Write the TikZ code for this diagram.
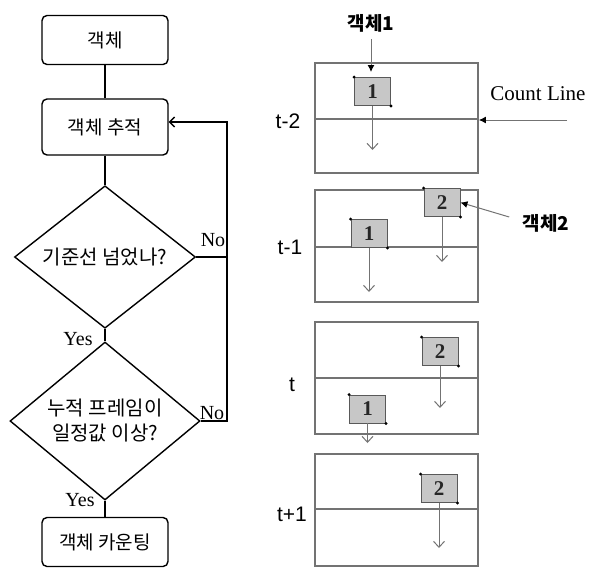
\documentclass[tikz,border=0pt]{standalone}
\usepackage{fontspec}
\newfontfamily\kr{Noto Sans CJK KR}
\newfontfamily\lsans{Liberation Sans}
\newfontfamily\lserif{Liberation Serif}
\usetikzlibrary{shapes.geometric, arrows.meta}

\tikzset{
  flowbox/.style={draw, line width=1.4pt, rounded corners=5pt, minimum width=126pt,
    minimum height=49pt, inner sep=0pt, font=\kr\fontsize{19}{21}\selectfont},
  decide/.style={draw, diamond, line width=1.4pt, inner sep=0pt, align=center,
    font=\kr\fontsize{20}{25}\selectfont},
  flow/.style={line width=1.4pt},
  answer/.style={font=\lserif\fontsize{20}{20}\selectfont, inner sep=1pt},
  frame/.style={draw=black!55, line width=1.8pt, minimum width=163pt, inner sep=0pt},
  obj/.style={draw=black!65, fill=black!22, line width=0.9pt, minimum width=36pt,
    minimum height=28pt, inner sep=0pt, text=black!85, font=\lserif\bfseries\fontsize{21}{21}\selectfont},
  move/.style={draw=black!55, line width=1pt, -{Straight Barb[length=6pt,width=11pt]}},
  point/.style={draw=black!55, line width=1pt, -{Latex[length=7pt,width=7pt,black]}},
  time/.style={font=\lsans\fontsize{21}{21}\selectfont},
  tag/.style={font=\kr\bfseries\fontsize{19}{19}\selectfont}
}
\newcommand\objbox[3]{%
  \node[obj] (#1) at (#2) {#3};
  \fill (#1.north west) circle (1.6pt) (#1.south east) circle (1.6pt);}

\begin{document}
\begin{tikzpicture}[x=1pt, y=-1pt]
  \useasboundingbox (0,0) rectangle (589,568);
  % Flowchart
  \node[flowbox] (obj) at (105,40) {객체};
  \node[flowbox, minimum height=56pt] (track) at (105,127) {객체 추적};
  \node[decide, minimum width=181pt, minimum height=140pt] (cross) at (105,257) {기준선 넘었나?};
  \node[decide, minimum width=190pt, minimum height=148pt] (frames) at (105,421) {누적 프레임이\\일정값 이상?};
  \node[flowbox] (count) at (105,542) {객체 카운팅};
  \draw[flow] (obj) -- (track);
  \draw[flow] (track) -- (cross);
  \draw[flow] (cross) -- (frames);
  \draw[flow] (frames) -- (count);
  % Loop back
  \coordinate (loop) at (227,122);
  \draw[flow, -{Straight Barb[length=5pt,width=10pt]}] (frames.east) -| (loop) -- (track.east |- loop);
  \draw[flow] (cross.east) -- (cross.east -| loop);
  \node[answer] (no1) at (213,240) {No};
  \node[answer] (no2) at (212,413) {No};
  \node[answer] (yes1) at (78,339) {Yes};
  \node[answer] (yes2) at (80,500) {Yes};

  % Frame t-2
  \node[frame, minimum height=110pt] (f1) at (396.5,118) {};
  \draw[black!55, line width=2.4pt] (f1.west |- 0,119) -- (f1.east |- 0,119);
  \objbox{a1}{372.5,91.5}{1}
  \coordinate (a1end) at (372.5,150);
  \draw[move] (a1) -- (a1end);
  \node[tag] (lab1) at (371,23) {객체1};
  \coordinate (tip1) at (371,72);
  \draw[point, shorten <=4pt] (lab1) -- (tip1);
  \node[font=\lserif\fontsize{21}{21}\selectfont] (cline) at (538,94) {Count Line};
  \coordinate (ctail) at (567,120);
  \draw[point] (ctail) -- (f1.east |- ctail);
  \node[time] (t1) at (288,121) {t-2};

  % Frame t-1
  \node[frame, minimum height=112pt] (f2) at (396.5,246) {};
  \draw[black!55, line width=1.2pt] (f2.west |- 0,247) -- (f2.east |- 0,247);
  \objbox{a2}{369,233.5}{1}
  \objbox{b2}{442,202.5}{2}
  \coordinate (a2end) at (369,292);
  \coordinate (b2end) at (442,262);
  \draw[move] (a2) -- (a2end);
  \draw[move] (b2) -- (b2end);
  \node[tag] (lab2) at (546,223) {객체2};
  \draw[point] (lab2.west) ++(-10,-6) -- (b2.east);
  \node[time] (t2) at (290,247) {t-1};

  % Frame t
  \node[frame, minimum height=112pt] (f3) at (396.5,378) {};
  \draw[black!55, line width=2pt] (f3.west |- 0,378) -- (f3.east |- 0,378);
  \objbox{b3}{440,351.5}{2}
  \objbox{a3}{367.5,409}{1}
  \coordinate (b3end) at (440,408);
  \coordinate (a3end) at (367.5,443);
  \draw[move] (b3) -- (b3end);
  \draw[move] (a3) -- (a3end);
  \node[time] (t3) at (292,385) {t};

  % Frame t+1
  \node[frame, minimum height=112pt] (f4) at (396.5,510) {};
  \draw[black!55, line width=1.2pt] (f4.west |- 0,509) -- (f4.east |- 0,509);
  \objbox{b4}{439,488.5}{2}
  \coordinate (b4end) at (439,548);
  \draw[move] (b4) -- (b4end);
  \node[time] (t4) at (292,514) {t+1};
\end{tikzpicture}
\end{document}
